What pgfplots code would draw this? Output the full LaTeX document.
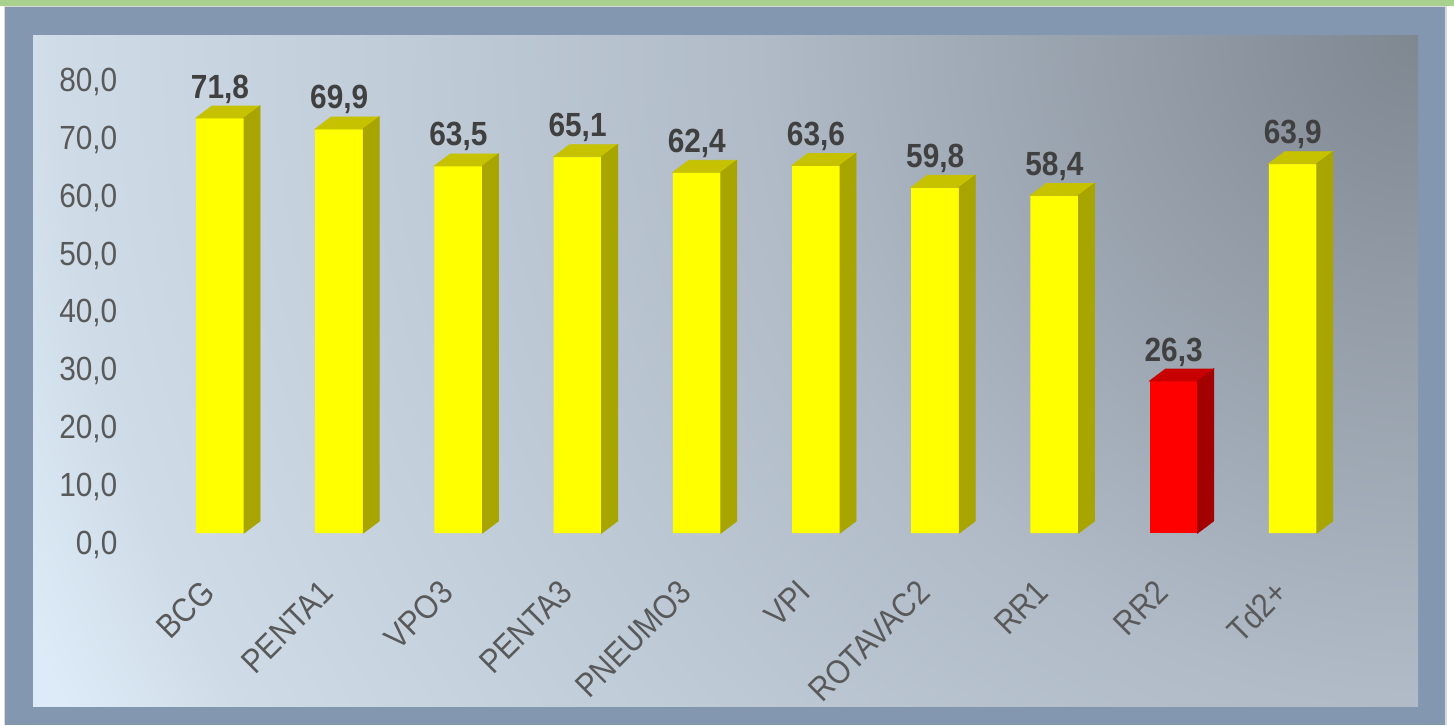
\documentclass[border=0pt]{standalone}
\usepackage{fontspec}
\setmainfont[FakeStretch=0.89]{Liberation Sans}
\usepackage{pgfplots}
\pgfplotsset{compat=1.18}
\definecolor{yfront}{HTML}{FFFF00}
\definecolor{ytop}{HTML}{C6C200}
\definecolor{yside}{HTML}{A8A400}
\definecolor{rfront}{HTML}{FF0000}
\definecolor{rtop}{HTML}{C80000}
\definecolor{rside}{HTML}{A30000}
\definecolor{tickgray}{HTML}{595959}
\definecolor{valgray}{HTML}{404040}
\definecolor{framecol}{HTML}{8397B1}
\definecolor{greenstrip}{HTML}{A9D18E}
\definecolor{lightline}{HTML}{D9D9D9}
\definecolor{pdark}{HTML}{7F8791}
\definecolor{pmid}{HTML}{B0BBC7}
\definecolor{plightA}{HTML}{CFDCE8}
\definecolor{plightB}{HTML}{DDEBF8}
\pgfdeclareradialshading{panelshade}{\pgfpoint{0bp}{0bp}}{color(0bp)=(pdark); color(10.44bp)=(pmid); color(21.5bp)=(plightA); color(23.9bp)=(plightB); color(25bp)=(plightB); color(50bp)=(plightB)}
\newcommand\lbl{\fontsize{16.75pt}{20pt}\selectfont}
\newcommand\cubefaces[2]{%
  \fill[#1] (-12pt,0pt) -- (12pt,0pt) -- (20pt,6pt) -- (-4pt,6pt) -- cycle;
  \fill[#2] (12pt,0pt) -- (20pt,6pt) -- (20pt,{6pt-\val*2.89pt}) -- (12pt,{-\val*2.89pt}) -- cycle;
}
\pgfdeclareplotmark{cubeY}{\cubefaces{ytop}{yside}}
\pgfdeclareplotmark{cubeR}{\cubefaces{rtop}{rside}}
\begin{document}
\begin{tikzpicture}
\useasboundingbox (0pt,0pt) rectangle (727pt,362.5pt);
\fill[white] (0pt,0pt) rectangle (727pt,362.5pt);
\fill[greenstrip] (0pt,359.5pt) rectangle (727pt,362.5pt);
\fill[lightline] (2pt,0pt) rectangle (723.5pt,359.5pt);
\fill[framecol] (2.5pt,0pt) rectangle (722.5pt,359pt);
\begin{scope}
\clip (16.5pt,9.5pt) rectangle (709pt,344.5pt);
\shade[shading=panelshade] (709pt,344.5pt) circle (790pt);
\end{scope}
\begin{axis}[
  at={(50.4pt,96pt)}, anchor=south west,
  scale only axis, width=655.6pt, height=231.2pt,
  xmin=-1, xmax=10, ymin=0, ymax=80,
  axis lines=left, axis line style={draw=none}, tick style={draw=none},
  clip=false,
  xtick={0,...,9},
  xticklabels={BCG,PENTA1,VPO3,PENTA3,PNEUMO3,VPI,ROTAVAC2,RR1,RR2,Td2+},
  ytick={0,10,...,80},
  yticklabel={\pgfmathprintnumber[fixed,fixed zerofill,precision=1,use comma,assume math mode=true]{\tick}},
  ticklabel style={font=\lbl, text=tickgray},
  yticklabel style={anchor=base east, inner sep=0pt, xshift=10.6pt, yshift=-10.5pt},
  xticklabel style={inner sep=0pt, xshift=-10pt, yshift=-20.25pt, rotate=45, anchor=north east},
  every node near coord/.style={anchor=base, inner sep=0pt, yshift=10pt, font=\lbl\bfseries, text=valgray},
]
\addplot[ybar, bar width=24pt, bar shift=0pt, fill=yfront, draw=none]
  coordinates {(0,71.8) (1,69.9) (2,63.5) (3,65.1) (4,62.4) (5,63.6) (6,59.8) (7,58.4) (9,63.9)};
\addplot[ybar, bar width=24pt, bar shift=0pt, fill=rfront, draw=none]
  coordinates {(8,26.3)};
\addplot[only marks, mark=cubeY, visualization depends on={rawy \as \val},
  nodes near coords={\pgfmathprintnumber[fixed,fixed zerofill,precision=1,use comma,assume math mode=true]{\pgfplotspointmeta}}]
  coordinates {(0,71.8) (1,69.9) (2,63.5) (3,65.1) (4,62.4) (5,63.6) (6,59.8) (7,58.4) (9,63.9)};
\addplot[only marks, mark=cubeR, visualization depends on={rawy \as \val},
  nodes near coords={\pgfmathprintnumber[fixed,fixed zerofill,precision=1,use comma,assume math mode=true]{\pgfplotspointmeta}}]
  coordinates {(8,26.3)};
\end{axis}
\end{tikzpicture}
\end{document}
